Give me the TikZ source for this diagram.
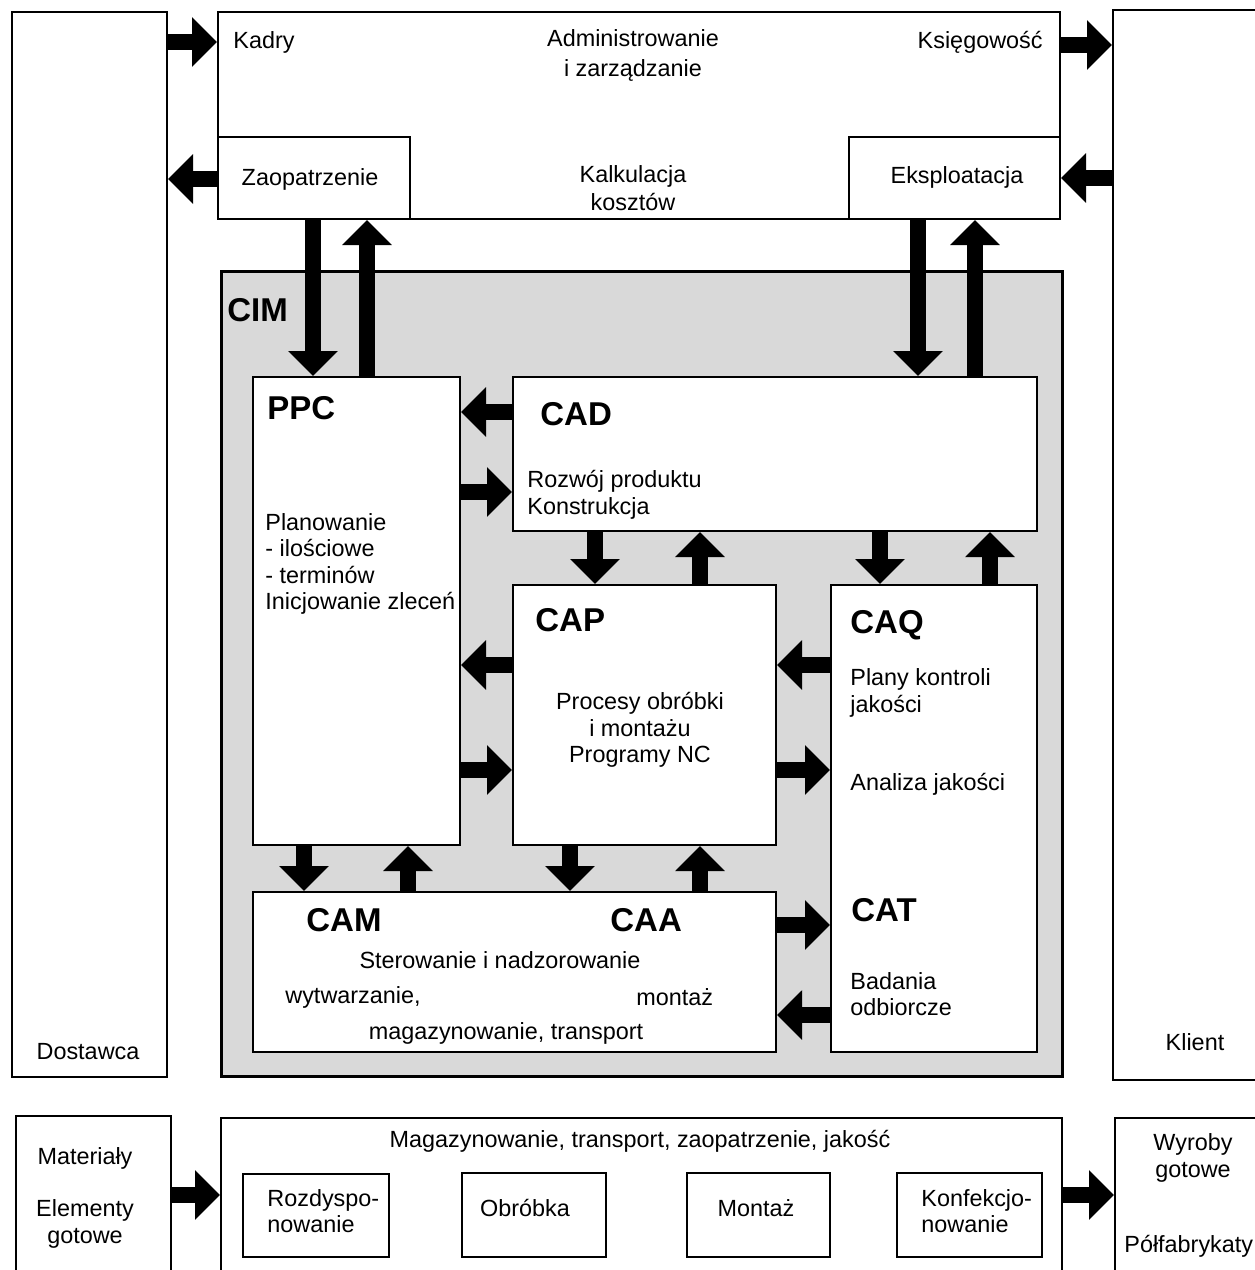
\documentclass[tikz,border=0pt]{standalone}
\usepackage{fontspec}
\setmainfont{Liberation Sans}
\usetikzlibrary{arrows.meta,fit}
\tikzset{
  box/.style={draw,line width=1pt,fill=white,inner sep=0pt},
  txt/.style={inner sep=0pt,font=\fontsize{11.7}{13.2}\selectfont},
  hd/.style={inner sep=0pt,font=\fontsize{16.5}{16.5}\selectfont\bfseries},
  blk/.style={line width=8pt,-{Triangle[length=12.5pt,width=24pt]}},
}
\begin{document}
\begin{tikzpicture}[x=0.5pt,y=-0.5pt]
  \useasboundingbox (0,0) rectangle (1254,1270);
  %% partners
  \node[box,fit={(12,12) (167,1077)}] (dost) {};
  \node[box,fit={(1113,10) (1264,1080)}] (klient) {};
  \node[txt] (dostL) at (88,1052) {Dostawca};
  \node[txt] (klientL) at (1195,1042) {Klient};
  %% administration
  \node[box,fit={(218,12) (1060,219)}] (admin) {};
  \node[box,fit={(218,137) (410,219)}] (zaop) {};
  \node[box,fit={(849,137) (1060,219)}] (eksp) {};
  \node[txt,anchor=west] (kadry) at (233,42) {Kadry};
  \node[txt,anchor=east] (ksieg) at (1043,42) {Księgowość};
  \node[txt,align=center,font=\fontsize{11.7}{15}\selectfont] (adminL) at (633,55) {Administrowanie\\i zarządzanie};
  \node[txt,align=center,font=\fontsize{11.7}{14}\selectfont] (kalk) at (633,188) {Kalkulacja\\kosztów};
  \node[txt] (zaopL) at (310,179) {Zaopatrzenie};
  \node[txt] (ekspL) at (957,177) {Eksploatacja};
  %% CIM
  \node[box,line width=1.5pt,fill=black!15,fit={(221,271) (1062,1076)}] (cim) {};
  \node[hd,anchor=west] (cimL) at (227,310) {CIM};
  \node[box,fit={(253,377) (460,845)}] (ppc) {};
  \node[box,fit={(513,377) (1037,531)}] (cad) {};
  \node[box,fit={(513,585) (776,845)}] (cap) {};
  \node[box,fit={(831,585) (1037,1052)}] (caq) {};
  \node[box,fit={(253,892) (776,1052)}] (cam) {};
  %% labels in CIM
  \node[hd,anchor=west] (ppcL) at (267,408) {PPC};
  \node[txt,anchor=west,align=left] (plan) at (265,564) {Planowanie\\- ilościowe\\- terminów\\Inicjowanie zleceń};
  \node[hd,anchor=west] (cadL) at (540,414) {CAD};
  \node[txt,anchor=west,align=left] (rozw) at (527,495) {Rozwój produktu\\Konstrukcja};
  \node[hd,anchor=west] (capL) at (535,620) {CAP};
  \node[txt,align=center] (proc) at (640,730) {Procesy obróbki\\i montażu\\Programy NC};
  \node[hd,anchor=west] (caqL) at (850,625) {CAQ};
  \node[txt,anchor=west,align=left] (plany) at (850,693) {Plany kontroli\\jakości};
  \node[txt,anchor=west] (anal) at (850,784) {Analiza jakości};
  \node[hd,anchor=west] (catL) at (851,910) {CAT};
  \node[txt,anchor=west,align=left] (bad) at (850,994) {Badania\\odbiorcze};
  \node[hd,anchor=west] (camL) at (306,920) {CAM};
  \node[hd,anchor=west] (caaL) at (610,920) {CAA};
  \node[txt] (ster) at (500,960) {Sterowanie i nadzorowanie};
  \node[txt,anchor=west] (wytw) at (285,997) {wytwarzanie,};
  \node[txt,anchor=west] (montL) at (636,997) {montaż};
  \node[txt] (magtr) at (506,1033) {magazynowanie, transport};
  %% arrows to partners
  \draw[blk] (dost.east |- 0,42) -- (admin.west |- 0,42);
  \draw[blk] (zaop.west |- 0,179) -- (dost.east |- 0,179);
  \draw[blk] (admin.east |- 0,45) -- (klient.west |- 0,45);
  \draw[blk] (klient.west |- 0,178) -- (eksp.east |- 0,178);
  %% arrows administration - CIM
  \draw[blk] (zaop.south -| 313,0) -- (ppc.north -| 313,0);
  \draw[blk] (ppc.north -| 367,0) -- (zaop.south -| 367,0);
  \draw[blk] (eksp.south -| 918,0) -- (cad.north -| 918,0);
  \draw[blk] (cad.north -| 975,0) -- (eksp.south -| 975,0);
  %% arrows inside CIM
  \draw[blk] (cad.west |- 0,412) -- (ppc.east |- 0,412);
  \draw[blk] (ppc.east |- 0,492) -- (cad.west |- 0,492);
  \draw[blk] (cad.south -| 595,0) -- (cap.north -| 595,0);
  \draw[blk] (cap.north -| 700,0) -- (cad.south -| 700,0);
  \draw[blk] (cad.south -| 880,0) -- (caq.north -| 880,0);
  \draw[blk] (caq.north -| 990,0) -- (cad.south -| 990,0);
  \draw[blk] (cap.west |- 0,665) -- (ppc.east |- 0,665);
  \draw[blk] (ppc.east |- 0,770) -- (cap.west |- 0,770);
  \draw[blk] (caq.west |- 0,665) -- (cap.east |- 0,665);
  \draw[blk] (cap.east |- 0,770) -- (caq.west |- 0,770);
  \draw[blk] (ppc.south -| 304,0) -- (cam.north -| 304,0);
  \draw[blk] (cam.north -| 408,0) -- (ppc.south -| 408,0);
  \draw[blk] (cap.south -| 570,0) -- (cam.north -| 570,0);
  \draw[blk] (cam.north -| 700,0) -- (cap.south -| 700,0);
  \draw[blk] (cam.east |- 0,925) -- (caq.west |- 0,925);
  \draw[blk] (caq.west |- 0,1015) -- (cam.east |- 0,1015);
  %% material flow
  \node[box,fit={(16,1116) (171,1280)}] (mat) {};
  \node[box,fit={(221,1118) (1062,1280)}] (mag) {};
  \node[box,fit={(1115,1118) (1264,1280)}] (wyr) {};
  \node[box,fit={(243,1174) (389,1257)}] (rozd) {};
  \node[box,fit={(462,1173) (606,1257)}] (obr) {};
  \node[box,fit={(687,1173) (830,1257)}] (mont) {};
  \node[box,fit={(897,1173) (1042,1257)}] (konf) {};
  \node[txt] (matL) at (85,1158) {Materiały};
  \node[txt,align=center] (elem) at (85,1224) {Elementy\\gotowe};
  \node[txt] (magL) at (640,1141) {Magazynowanie, transport, zaopatrzenie, jakość};
  \node[txt,align=center] (wyrL) at (1193,1158) {Wyroby\\gotowe};
  \node[txt,anchor=west] (polf) at (1124,1246) {Półfabrykaty};
  \node[txt,anchor=west,align=left] (rozdL) at (267,1211) {Rozdyspo-\\nowanie};
  \node[txt] (obrL) at (525,1208) {Obróbka};
  \node[txt] (montzL) at (756,1208) {Montaż};
  \node[txt,anchor=west,align=left] (konfL) at (921,1211) {Konfekcjo-\\nowanie};
  \draw[blk] (mat.east |- 0,1195) -- (mag.west |- 0,1195);
  \draw[blk] (mag.east |- 0,1195) -- (wyr.west |- 0,1195);
\end{tikzpicture}
\end{document}
